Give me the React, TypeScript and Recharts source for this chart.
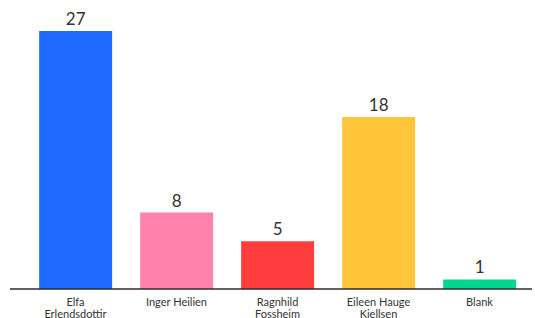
import { BarChart, Bar, XAxis, YAxis, Cell, LabelList } from "recharts";

const candidates = ["Elfa\nErlendsdottir", "Inger Heilien", "Ragnhild\nFossheim", "Eileen Hauge\nKjellsen", "Blank"];
const votes = [27, 8, 5, 18, 1];
const colors = ["#1F6BFF", "#FF82AD", "#FF3D3D", "#FFC53A", "#00D690"];

const data = candidates.map((name, i) => ({ name, value: votes[i], fill: colors[i] }));

const FONT = "Lato, 'Open Sans', sans-serif";

function NameTick({ x, y, payload }: any) {
  const lines = String(payload.value).split("\n");
  return (
    <text x={x} y={y} textAnchor="middle" fontSize={11} fill="#333" fontFamily={FONT}>
      {lines.map((l, i) => (
        <tspan key={i} x={x} dy={i === 0 ? 8.5 : 12}>
          {l}
        </tspan>
      ))}
    </text>
  );
}

export default function App() {
  return (
    <div style={{ position: "absolute", left: 0, top: 0, background: "#fff" }}>
      <BarChart
        width={535}
        height={318}
        data={data}
        margin={{ top: 31, right: 3, bottom: 0, left: 10 }}
        barCategoryGap="14%"
      >
        <XAxis
          dataKey="name"
          interval={0}
          tickLine={false}
          axisLine={{ stroke: "#2b2b33", strokeWidth: 1.5 }}
          height={29}
          padding={{ left: 15, right: 2 }}
          tick={<NameTick />}
        />
        <YAxis hide domain={[0, 27]} />
        <Bar dataKey="value" isAnimationActive={false}>
          {data.map((d, i) => (
            <Cell key={`cell-${i}`} fill={d.fill} />
          ))}
          <LabelList
            dataKey="value"
            position="top"
            offset={6}
            fill="#333"
            fontSize={17}
            fontFamily={FONT}
          />
        </Bar>
      </BarChart>
    </div>
  );
}
